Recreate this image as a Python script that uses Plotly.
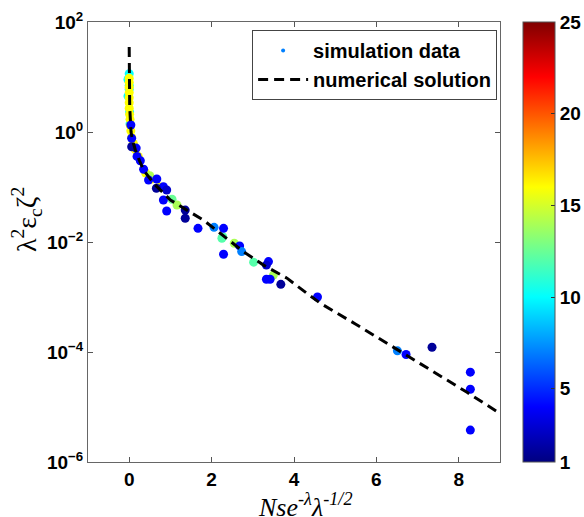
import plotly.graph_objects as go

# ---------------- data ----------------
# simulation data: x, y, colour value
x_cyan = [0.0, -0.03, 0.0, -0.03, 0.01, 0.02, 0.0]
y_cyan = [11.5, 9.0, 7.0, 4.5, 2.3, 1.4, 6.0]
c_cyan = [10, 10, 10, 10, 10, 10, 10]

x_yel = [0.0, 0.0, 0.0, 0.0, 0.0, 0.0, 0.0, 0.01, 0.02, 0.03, 0.04, 0.06, 0.10, 0.15, 0.22, 0.40, 0.55, 0.75]
y_yel = [9.5, 8.0, 6.5, 5.2, 4.2, 3.4, 2.7, 2.1, 1.7, 1.3, 1.05, 0.8, 0.62, 0.48, 0.36, 0.18, 0.14, 0.10]
c_yel = [16, 16, 16, 16, 16, 16, 16, 16, 16, 16, 16, 16, 16, 16, 16, 16, 16, 16]

x_mid = [0.5, 1.04, 1.16, 2.25, 2.27, 3.02, 2.55, 3.50]
y_mid = [0.16, 0.060, 0.047, 0.0117, 0.0125, 0.0043, 0.0095, 0.0025]
c_mid = [14, 12.5, 14, 12, 12, 12, 14, 14]

x_blue = [0.04, 0.06, 0.17, 0.19, 0.27, 0.35, 0.47, 0.67, 0.83, 0.83, 0.91,
          1.67, 2.29, 2.68, 2.29, 3.38, 3.33, 3.42, 4.57, 6.72, 8.28, 8.28, 8.28]
y_blue = [1.34, 0.77, 0.51, 0.36, 0.30, 0.21, 0.134, 0.14, 0.101, 0.058, 0.0366,
          0.0177, 0.0177, 0.0085, 0.0060, 0.0044, 0.0021, 0.0021, 0.0010, 9.0e-5, 4.3e-5, 2.1e-5, 3.8e-6]
c_blue = [4] * 23

x_dark = [0.06, 0.66, 1.36, 1.36, 3.68, 7.35, 0.91, 3.33]
y_dark = [0.54, 0.095, 0.038, 0.027, 0.0017, 1.22e-4, 0.088, 0.0038]
c_dark = [1.6, 1.6, 1.6, 1.6, 1.6, 1.6, 2.8, 2.8]

x_dod = [2.06, 2.73, 6.51]
y_dod = [0.0185, 0.0067, 1.05e-4]
c_dod = [7, 7, 7]

# numerical solution
x_num = [0.0, 0.0, 0.0, 0.005, 0.012, 0.02, 0.03, 0.045, 0.08, 0.15, 0.25, 0.35, 0.59, 0.8,
         1.0, 1.4, 1.8, 2.21, 2.77, 3.26, 3.83, 4.31, 4.64, 5.5, 6.66, 7.5, 8.2, 9.0]
y_num = [35, 20, 10, 5, 3, 2.2, 1.5, 1.0, 0.7, 0.47, 0.30, 0.204, 0.117, 0.08,
         0.058, 0.038, 0.025, 0.0144, 0.0067, 0.0038, 0.0022, 0.00117, 0.00077, 3.2e-4, 9.5e-5, 3.9e-5, 1.85e-5, 7.6e-6]

x_ticks = [0, 2, 4, 6, 8]
y_tickvals = [1e2, 1e0, 1e-2, 1e-4, 1e-6]
y_ticktext = ["10<sup>2</sup>", "10<sup>0</sup>", "10<sup>−2</sup>", "10<sup>−4</sup>", "10<sup>−6</sup>"]
cbar_ticks = [1, 5, 10, 15, 20, 25]
x_title = "<i>Nse<sup>-λ</sup>λ<sup>-1/2</sup></i>"
y_title = "λ<sup>2</sup>ε<sub>c</sub>ζ<sup>2</sup>"

# ---------------- figure ----------------
xs = x_cyan + x_yel + x_mid + x_blue + x_dark + x_dod
ys = y_cyan + y_yel + y_mid + y_blue + y_dark + y_dod
cs = c_cyan + c_yel + c_mid + c_blue + c_dark + c_dod

jet = [[0.0, "rgb(0,0,128)"], [0.125, "rgb(0,0,255)"], [0.375, "rgb(0,255,255)"],
       [0.625, "rgb(255,255,0)"], [0.875, "rgb(255,0,0)"], [1.0, "rgb(128,0,0)"]]

tickfont = dict(family="Liberation Sans", size=19, color="black", weight="bold")
titlefont = dict(family="Liberation Serif", size=28, color="black")
xtitlefont = dict(family="Liberation Serif", size=26, color="black")

fig = go.Figure()
fig.add_trace(go.Scatter(
    x=xs, y=ys, mode="markers", showlegend=False,
    marker=dict(size=9, color=cs, colorscale=jet, cmin=1, cmax=25, line=dict(width=0),
                colorbar=dict(thickness=32, len=1, lenmode="fraction", y=0.5, yanchor="middle",
                              x=1.056, xanchor="left", xpad=0, ypad=0,
                              outlinecolor="#555", outlinewidth=1,
                              tickvals=cbar_ticks, ticks="inside", ticklen=4, tickcolor="#333",
                              tickfont=tickfont))))
fig.add_trace(go.Scatter(
    x=[None], y=[None], mode="markers", name="simulation data",
    marker=dict(size=4, color="rgb(0,128,255)")))
fig.add_trace(go.Scatter(
    x=x_num, y=y_num, mode="lines", name="numerical solution",
    line=dict(color="black", width=3, dash="10px,6px")))

fig.update_layout(
    width=584, height=517,
    margin=dict(l=88, r=84, t=22, b=55, autoexpand=False),
    paper_bgcolor="white", plot_bgcolor="white",
    legend=dict(x=0.993, y=0.982, xanchor="right", yanchor="top",
                bgcolor="white", bordercolor="#444", borderwidth=1,
                font=dict(family="Liberation Sans", size=20, color="black", weight="bold"),
                tracegroupgap=0, itemwidth=50),
    xaxis=dict(range=[-1, 9], tickvals=x_ticks, ticks="inside", ticklen=5, tickcolor="#555",
               showline=True, linecolor="#666", linewidth=1, mirror="ticks", automargin=False,
               showgrid=False, zeroline=False, tickfont=tickfont),
    yaxis=dict(type="log", range=[-6, 2], tickvals=y_tickvals, ticktext=y_ticktext,
               ticks="inside", ticklen=5, tickcolor="#555", automargin=False,
               showline=True, linecolor="#666", linewidth=1, mirror="ticks",
               showgrid=False, zeroline=False, tickfont=tickfont),
    annotations=[
        dict(text=x_title, xref="paper", yref="paper", x=0.527, y=-0.057,
             xanchor="center", yanchor="top", showarrow=False, font=xtitlefont),
        dict(text=y_title, xref="paper", yref="paper", x=-0.148, y=0.55, textangle=-90,
             xanchor="center", yanchor="middle", showarrow=False, font=titlefont),
    ],
)

fig.write_html("out.html", config={"displayModeBar": False},
               post_script="document.body.style.margin='0';")
